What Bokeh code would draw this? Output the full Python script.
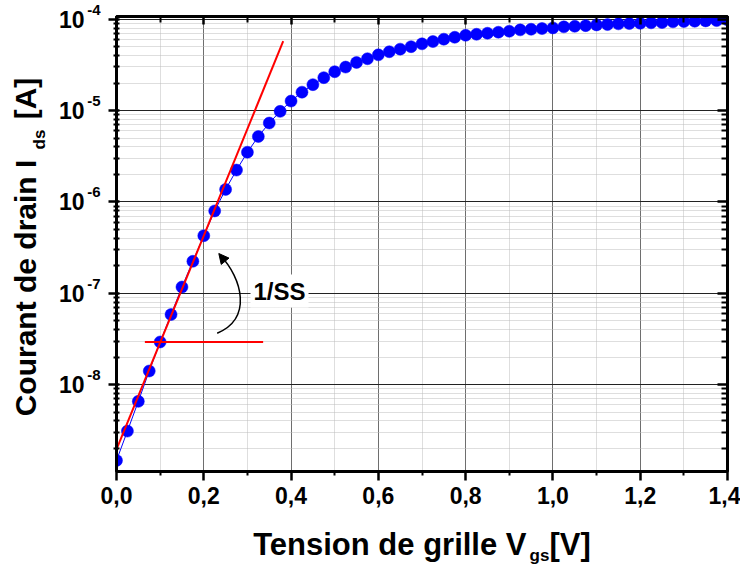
import math
from bokeh.plotting import figure
from bokeh.layouts import row, column
from bokeh.models import (Range1d, FixedTicker, CustomJSTickFormatter, LinearAxis, LogAxis,
                          Label, Arrow, NormalHead)
from bokeh.embed import file_html
from bokeh.resources import INLINE

# ---------------- data ----------------
vgs = [0.000, 0.025, 0.050, 0.075, 0.100, 0.125, 0.150, 0.175, 0.200, 0.225,
       0.250, 0.275, 0.300, 0.325, 0.350, 0.375, 0.400, 0.425, 0.450, 0.475,
       0.500, 0.525, 0.550, 0.575, 0.600, 0.625, 0.650, 0.675, 0.700, 0.725,
       0.750, 0.775, 0.800, 0.825, 0.850, 0.875, 0.900, 0.925, 0.950, 0.975,
       1.000, 1.025, 1.050, 1.075, 1.100, 1.125, 1.150, 1.175, 1.200, 1.225,
       1.250, 1.275, 1.300, 1.325, 1.350, 1.375, 1.400]
ids = [1.48e-9, 3.1e-9, 6.56e-9, 1.41e-8, 2.93e-8, 5.85e-8, 1.17e-7, 2.24e-7, 4.27e-7, 7.97e-7,
       1.37e-6, 2.23e-6, 3.5e-6, 5.2e-6, 7.3e-6, 9.8e-6, 1.27e-5, 1.59e-5, 1.92e-5, 2.29e-5,
       2.66e-5, 2.99e-5, 3.36e-5, 3.69e-5, 4.07e-5, 4.4e-5, 4.7e-5, 5.0e-5, 5.37e-5, 5.69e-5,
       6.04e-5, 6.34e-5, 6.67e-5, 6.84e-5, 7.02e-5, 7.2e-5, 7.38e-5, 7.64e-5, 7.76e-5, 7.9e-5,
       8.03e-5, 8.24e-5, 8.36e-5, 8.5e-5, 8.66e-5, 8.73e-5, 8.89e-5, 8.95e-5, 9.02e-5, 9.12e-5,
       9.18e-5, 9.35e-5, 9.42e-5, 9.49e-5, 9.58e-5, 9.65e-5, 9.83e-5]

# subthreshold slope tangent and reference horizontal
tangent_x = [-0.016, 0.382]
tangent_y = [1.27e-9, 5.74e-5]
ref_x = [0.065, 0.336]
ref_y = [2.93e-8, 2.93e-8]

x_ticks = [0.0, 0.2, 0.4, 0.6, 0.8, 1.0, 1.2, 1.4]
x_minor = [0.1, 0.3, 0.5, 0.7, 0.9, 1.1, 1.3]
y_ticks = [1e-8, 1e-7, 1e-6, 1e-5, 1e-4]
y_minor = [k * 10.0 ** n for n in range(-9, -3) for k in range(2, 10)]

X0, X1 = 0.0, 1.4
Y0, Y1 = 1.12e-9, 1.07e-4

# ---------------- page geometry ----------------
W, H = 740, 565          # whole picture
YT_W = 52                # strip holding the y title
MAIN_H = 520             # height of the main plot canvas
FL, FR, FT, FB = 116, 727, 16, 471   # frame edges, page pixels
L0, L1 = math.log10(Y0), math.log10(Y1)
MID = 0.3465             # em-box middle above baseline (Liberation Sans)

def dx(px):
    return X0 + (px - FL) / (FR - FL) * (X1 - X0)

def dy(py):
    return 10 ** (L1 - (py - FT) / (FB - FT) * (L1 - L0))

FONT = "Liberation Sans"

p = figure(width=W - YT_W, height=MAIN_H, x_range=Range1d(X0, X1), y_range=Range1d(Y0, Y1),
           y_axis_type="log", output_backend="svg", toolbar_location=None,
           min_border_left=FL - YT_W, min_border_right=W - FR, min_border_top=FT,
           min_border_bottom=MAIN_H - FB)
p.background_fill_color = "white"
p.border_fill_color = "white"
p.outline_line_color = "black"
p.outline_line_width = 3

xt = FixedTicker(ticks=x_ticks, minor_ticks=x_minor)
yt = FixedTicker(ticks=y_ticks, minor_ticks=y_minor)
xfmt = CustomJSTickFormatter(code="return tick.toFixed(1).replace('.', ',');")
# exponent (raised by a trailing empty line) and the "10" base, on two stacked left axes
exp_fmt = CustomJSTickFormatter(code="return String(Math.round(Math.log10(tick))) + '\\n';")
base_fmt = CustomJSTickFormatter(code="return '10';")
empty = CustomJSTickFormatter(code="return '';")

def style_axis(ax):
    ax.axis_line_width = 3
    ax.axis_line_color = "black"
    ax.major_tick_line_width = 2.5
    ax.minor_tick_line_width = 2
    ax.major_tick_line_color = "black"
    ax.minor_tick_line_color = "black"
    ax.major_label_text_font = FONT
    ax.major_label_text_font_style = "bold"
    ax.major_label_text_color = "black"

xa = p.xaxis[0]
xa.ticker = xt
xa.formatter = xfmt
style_axis(xa)
xa.major_tick_out = 9
xa.major_tick_in = 0
xa.minor_tick_out = 4
xa.minor_tick_in = 0
xa.major_label_text_font_size = "23px"
xa.major_label_standoff = 6

ya = p.yaxis[0]
ya.ticker = yt
ya.formatter = exp_fmt
style_axis(ya)
ya.major_tick_out = 8
ya.major_tick_in = 3
ya.minor_tick_out = 3
ya.minor_tick_in = 3
ya.major_label_text_font_size = "15px"
ya.major_label_standoff = 8

ybase = LogAxis(ticker=yt, formatter=base_fmt)
style_axis(ybase)
ybase.axis_line_color = None
ybase.major_tick_line_color = None
ybase.minor_tick_line_color = None
ybase.major_tick_out = 0
ybase.major_tick_in = 0
ybase.minor_tick_out = 0
ybase.minor_tick_in = 0
ybase.major_label_standoff = 0
ybase.major_label_text_font_size = "23px"
p.add_layout(ybase, "left")

top = LinearAxis(ticker=xt, formatter=empty)
style_axis(top)
top.major_tick_out = 0
top.major_tick_in = 8
top.minor_tick_out = 0
top.minor_tick_in = 6
top.major_label_standoff = 0
top.major_label_text_font_size = "0px"
p.add_layout(top, "above")

right = LogAxis(ticker=yt, formatter=empty)
style_axis(right)
right.major_tick_out = 0
right.major_tick_in = 10
right.minor_tick_out = 0
right.minor_tick_in = 6
right.major_label_standoff = 0
right.major_label_text_font_size = "0px"
p.add_layout(right, "right")

p.xgrid.ticker = xt
p.ygrid.ticker = yt
p.xgrid.grid_line_color = "#6e6e6e"
p.xgrid.grid_line_width = 1
p.xgrid.minor_grid_line_color = "#bdbdbd"
p.xgrid.minor_grid_line_dash = "1 1"
p.ygrid.grid_line_color = "#222222"
p.ygrid.grid_line_width = 1
p.ygrid.minor_grid_line_color = "#bdbdbd"
p.ygrid.minor_grid_line_dash = "1 1"

# ---------------- data marks ----------------
p.line(vgs, ids, line_color="#0000ff", line_width=1)
p.scatter(vgs, ids, size=12, fill_color="#0000ff", line_color="#0000ff", line_width=0.5)
p.line(tangent_x, tangent_y, line_color="#ff0000", line_width=2)
p.line(ref_x, ref_y, line_color="#ff0000", line_width=2)

# ---------------- annotation: curved arrow + 1/SS ----------------
p.bezier(x0=[dx(216.7)], y0=[dy(332.7)], x1=[dx(219.5)], y1=[dy(254.5)],
         cx0=[dx(252)], cy0=[dy(318)], cx1=[dx(242)], cy1=[dy(278)],
         line_color="black", line_width=1.5)
p.add_layout(Arrow(end=NormalHead(size=10, fill_color="black", line_color="black"),
                   x_start=dx(224), y_start=dy(260), x_end=dx(218.3), y_end=dy(253),
                   line_color="black", line_width=1.5))
p.add_layout(Label(x=dx(250), y=dy(290.5), text="1/SS", text_font=FONT,
                   text_font_style="bold", text_font_size="24px", text_color="black",
                   text_baseline="middle", text_align="left",
                   background_fill_color="white", padding=3))

# ---------------- axis titles: strips whose data units are pixels ----------------
def text_strip(w, h):
    f = figure(frame_width=w, frame_height=h, x_range=Range1d(0, w), y_range=Range1d(0, h),
               output_backend="svg", toolbar_location=None, title=None,
               x_axis_location=None, y_axis_location=None,
               min_border=0, min_border_left=0, min_border_right=0,
               min_border_top=0, min_border_bottom=0)
    f.outline_line_color = None
    f.background_fill_color = "white"
    f.border_fill_color = "white"
    f.grid.visible = False
    return f

def lab(f, x, y, text, size, align="center", angle=0.0):
    f.add_layout(Label(x=x, y=y, text=text, text_font=FONT, text_font_style="bold",
                       text_font_size=f"{size}px", text_color="black", text_align=align,
                       text_baseline="middle", angle=angle))

# y title: rotated, reading upward; page coords (x, y) -> strip (x, MAIN_H - y)
ytitle = text_strip(YT_W, MAIN_H)
def ylab(base_x, y_start, y_end, text, size):
    lab(ytitle, base_x - MID * size, MAIN_H - (y_start + y_end) / 2, text, size,
        angle=math.pi / 2)

ylab(35, 400, 143, "Courant de drain I", 30)
ylab(45, 133, 113, "ds", 17)
ylab(35, 102, 62, "[A]", 30)

# x title; page coords -> strip (x, H - y)
XT_H = H - MAIN_H
xtitle = text_strip(W, XT_H)
def xlab(x, base_y, text, size, align):
    lab(xtitle, x, H - (base_y - MID * size), text, size, align=align)

xlab(526, 555, "Tension de grille V", 31, "right")
xlab(529, 561, "gs", 17, "left")
xlab(549, 555, "[V]", 31, "left")

layout = column(row(ytitle, p, spacing=0), xtitle, spacing=0)
open("out.html", "w").write(file_html(layout, INLINE))
